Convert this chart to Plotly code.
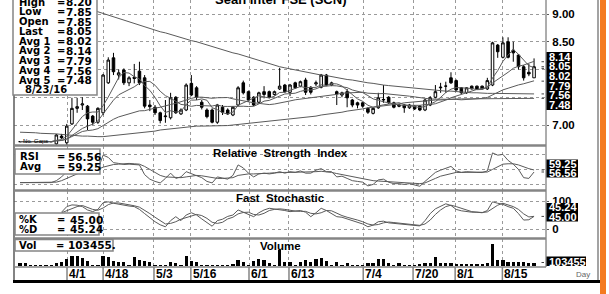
import plotly.graph_objects as go
import pandas as pd

W, H = 609, 294

# ---------------- data ----------------
opens = [6.70, 6.70, 6.70, 6.70, 6.70, 6.70, 6.70, 6.66, 6.80, 6.68,
         7.02, 7.30, 7.36, 7.34, 7.16, 7.05, 7.22, 7.76, 8.21, 7.90,
         7.99, 7.76, 7.86, 7.97, 7.85, 7.36, 7.32, 7.22, 7.15, 7.13,
         7.50, 7.20, 7.27, 7.75, 7.67, 7.41, 7.27, 7.27, 7.05, 7.32,
         7.27, 7.18, 7.36, 7.76, 7.60, 7.50, 7.41, 7.60, 7.60, 7.55,
         7.65, 7.72, 7.59, 7.76, 7.70, 7.81, 7.68, 7.74, 7.68, 7.90,
         7.72, 7.60, 7.54, 7.60, 7.45, 7.40, 7.40, 7.30, 7.21, 7.31,
         7.45, 7.50, 7.40, 7.36, 7.36, 7.31, 7.34, 7.34, 7.27, 7.36,
         7.50, 7.67, 7.70, 7.85, 7.80, 7.67, 7.58, 7.70, 7.70, 7.70,
         7.65, 7.72, 8.44, 8.22, 8.50, 8.35, 8.26, 8.05, 7.95, 7.85]
highs = [6.70, 6.70, 6.70, 6.70, 6.70, 6.70, 6.70, 6.84, 6.84, 7.02,
         7.49, 7.49, 7.50, 7.36, 7.18, 7.32, 7.92, 8.22, 8.30, 8.00,
         8.02, 7.88, 8.10, 8.14, 7.90, 7.45, 7.36, 7.24, 7.45, 7.58,
         7.52, 7.30, 7.75, 7.90, 7.70, 7.45, 7.30, 7.30, 7.38, 7.36,
         7.30, 7.34, 7.70, 7.80, 7.62, 7.52, 7.60, 7.70, 7.62, 7.62,
         8.03, 7.74, 7.74, 7.78, 7.80, 7.85, 7.70, 7.80, 7.92, 7.92,
         7.78, 7.62, 7.60, 7.65, 7.47, 7.42, 7.42, 7.32, 7.32, 7.58,
         7.72, 7.52, 7.42, 7.38, 7.38, 7.38, 7.36, 7.36, 7.47, 7.52,
         7.72, 7.76, 7.78, 7.95, 7.82, 7.68, 7.68, 7.71, 7.71, 7.71,
         7.85, 8.50, 8.46, 8.58, 8.58, 8.50, 8.28, 8.08, 8.10, 8.20]
lows = [6.70, 6.70, 6.70, 6.70, 6.70, 6.70, 6.70, 6.64, 6.75, 6.64,
        7.00, 7.22, 7.27, 6.91, 7.00, 7.02, 7.18, 7.74, 7.90, 7.82,
        7.72, 7.70, 7.75, 7.72, 7.30, 7.25, 7.18, 7.03, 7.04, 7.10,
        7.20, 7.18, 7.25, 7.52, 7.45, 7.28, 7.12, 7.03, 7.02, 7.18,
        7.18, 7.16, 7.34, 7.55, 7.42, 7.34, 7.39, 7.48, 7.48, 7.53,
        7.63, 7.58, 7.52, 7.65, 7.68, 7.54, 7.55, 7.70, 7.66, 7.70,
        7.70, 7.36, 7.50, 7.32, 7.32, 7.30, 7.31, 7.20, 7.19, 7.29,
        7.40, 7.38, 7.30, 7.32, 7.22, 7.29, 7.27, 7.25, 7.25, 7.34,
        7.48, 7.58, 7.58, 7.74, 7.62, 7.56, 7.56, 7.64, 7.64, 7.64,
        7.63, 7.70, 8.21, 8.20, 8.20, 8.14, 8.00, 7.80, 7.88, 7.85]
closes = [6.70, 6.70, 6.70, 6.70, 6.70, 6.70, 6.70, 6.82, 6.77, 6.98,
          7.30, 7.33, 7.38, 7.11, 7.05, 7.30, 7.90, 8.17, 7.96, 7.94,
          7.76, 7.85, 7.84, 7.76, 7.34, 7.33, 7.22, 7.08, 7.16, 7.49,
          7.22, 7.27, 7.72, 7.54, 7.50, 7.32, 7.15, 7.05, 7.36, 7.23,
          7.20, 7.32, 7.67, 7.58, 7.45, 7.36, 7.58, 7.55, 7.50, 7.60,
          7.70, 7.60, 7.72, 7.67, 7.78, 7.59, 7.59, 7.76, 7.90, 7.72,
          7.76, 7.56, 7.58, 7.49, 7.36, 7.36, 7.34, 7.23, 7.30, 7.49,
          7.46, 7.40, 7.32, 7.34, 7.31, 7.36, 7.29, 7.27, 7.45, 7.49,
          7.60, 7.68, 7.70, 7.76, 7.63, 7.58, 7.67, 7.65, 7.65, 7.65,
          7.80, 8.48, 8.32, 8.48, 8.22, 8.30, 8.05, 7.85, 7.92, 8.05]
avg4 = [9.55, 9.52, 9.49, 9.46, 9.43, 9.40, 9.37, 9.34, 9.31, 9.28,
        9.25, 9.21, 9.17, 9.12, 9.08, 9.04, 9.01, 8.98, 8.94, 8.91,
        8.88, 8.85, 8.82, 8.80, 8.77, 8.74, 8.71, 8.68, 8.66, 8.63,
        8.60, 8.57, 8.55, 8.52, 8.50, 8.47, 8.44, 8.41, 8.38, 8.36,
        8.33, 8.30, 8.28, 8.25, 8.22, 8.19, 8.16, 8.13, 8.10, 8.08,
        8.05, 8.03, 8.01, 7.99, 7.97, 7.95, 7.93, 7.92, 7.90, 7.89,
        7.87, 7.85, 7.84, 7.82, 7.81, 7.79, 7.78, 7.76, 7.75, 7.73,
        7.72, 7.71, 7.70, 7.69, 7.68, 7.67, 7.66, 7.65, 7.64, 7.64,
        7.63, 7.62, 7.61, 7.61, 7.60, 7.59, 7.59, 7.58, 7.58, 7.57,
        7.57, 7.57, 7.57, 7.56, 7.56, 7.56, 7.56, 7.56, 7.56, 7.56]
avg5 = [6.87, 6.87, 6.86, 6.86, 6.85, 6.85, 6.84, 6.84, 6.83, 6.82,
        6.82, 6.81, 6.80, 6.80, 6.79, 6.79, 6.79, 6.80, 6.80, 6.81,
        6.82, 6.83, 6.84, 6.85, 6.86, 6.88, 6.89, 6.91, 6.92, 6.94,
        6.95, 6.96, 6.97, 6.97, 6.98, 6.98, 6.98, 6.98, 6.99, 6.99,
        6.99, 7.00, 7.01, 7.01, 7.02, 7.03, 7.04, 7.05, 7.06, 7.07,
        7.08, 7.09, 7.10, 7.12, 7.13, 7.14, 7.15, 7.16, 7.18, 7.19,
        7.20, 7.22, 7.23, 7.25, 7.26, 7.28, 7.29, 7.31, 7.32, 7.34,
        7.35, 7.36, 7.37, 7.38, 7.40, 7.41, 7.42, 7.43, 7.44, 7.44,
        7.45, 7.45, 7.46, 7.46, 7.47, 7.47, 7.47, 7.47, 7.48, 7.48,
        7.48, 7.48, 7.48, 7.48, 7.48, 7.48, 7.48, 7.48, 7.48, 7.48]
volume = [89000, 86000, 25000, 24000, 26000, 25000, 24000, 90000, 118000, 207000,
          296000, 296000, 236000, 148000, 25000, 27000, 296000, 266000, 148000, 118000,
          118000, 28000, 266000, 177000, 148000, 118000, 26000, 25000, 27000, 118000,
          89000, 28000, 296000, 148000, 118000, 25000, 24000, 26000, 25000, 27000,
          25000, 30000, 177000, 118000, 28000, 148000, 207000, 177000, 89000, 28000,
          473000, 118000, 118000, 28000, 118000, 177000, 118000, 207000, 236000, 148000,
          28000, 118000, 28000, 89000, 26000, 25000, 27000, 89000, 89000, 207000,
          207000, 89000, 28000, 89000, 28000, 26000, 27000, 59000, 89000, 89000,
          266000, 103000, 89000, 89000, 59000, 59000, 59000, 30000, 30000, 30000,
          89000, 650000, 177000, 177000, 133000, 133000, 133000, 133000, 89000, 103455]
rsi = [42.4, 42.4, 42.4, 42.4, 42.4, 42.4, 42.4, 45, 50, 57,
       62, 64, 65, 58, 56, 60, 79, 76, 69, 68,
       66.5, 67, 66.5, 66, 53, 47, 44, 42, 48, 55,
       48, 50, 57, 54, 52, 49, 44, 42, 50, 48,
       47, 52, 66, 62, 55, 50, 54, 55, 54, 55,
       57, 55, 57, 56, 58, 55, 55, 59, 61, 57,
       57, 50, 51, 48, 45, 44, 43, 38, 40, 46,
       47, 43, 41, 41, 40, 41, 39, 37.5, 44, 50,
       56, 59, 61, 64, 58, 56, 57, 56, 56, 55.8,
       58, 82, 79, 80, 72, 67, 60, 49, 48, 56.56]
rsi_avg = [42.4, 42.4, 42.4, 42.4, 42.4, 42.4, 42.4, 43, 45, 48,
           52, 55, 57, 58, 59, 60, 63, 65, 66.5, 67,
           67.5, 68, 67.5, 67, 64, 60, 56, 52, 50, 49.5,
           49, 49, 50, 51, 52, 51.5, 50, 48.5, 48, 48,
           48, 49, 52, 53.5, 54, 54, 54, 54.5, 55, 55.5,
           56, 56, 56, 56, 56.5, 57, 57, 57, 57.5, 57,
           56, 54.5, 53, 51.5, 50, 49, 48, 46.5, 45, 44.5,
           44, 44, 43.5, 43, 42.5, 42, 41.5, 41, 42, 44.5,
           48, 51, 53, 55, 56, 56, 56, 56, 56, 56,
           56.5, 60, 64, 67, 67.5, 67.5, 66, 63, 61, 59.25]
pct_k = [None] * 8 + [60, 80,
         86, 85, 80, 68, 62, 70, 94, 97, 92, 88,
         84, 82, 80, 70, 55, 40, 26, 15, 8, 30,
         44, 30, 50, 58, 50, 36, 22, 10, 30, 35,
         45, 50, 68, 60, 50, 44, 58, 68, 74, 72,
         70, 66, 62, 64, 66, 60, 44, 58, 74, 66,
         55, 44, 42, 36, 32, 26, 18, 8, 14, 26,
         28, 22, 20, 20, 18, 15, 12, 11, 30, 55,
         72, 80, 90, 84, 70, 65, 62, 60, 60, 58,
         66, 97, 92, 88, 80, 74, 55, 32, 33, 45.00]
pct_d = [None] * 8 + [58, 65,
         72, 80, 84, 78, 70, 67, 75, 87, 93, 93,
         90, 86, 83, 78, 68, 55, 42, 29, 18, 20,
         26, 35, 40, 45, 52, 48, 38, 24, 20, 24,
         36, 42, 54, 59, 60, 52, 50, 56, 66, 70,
         72, 70, 66, 64, 63, 63, 56, 54, 58, 66,
         65, 55, 48, 42, 38, 32, 26, 18, 14, 16,
         22, 25, 23, 21, 19, 17, 15, 13, 18, 32,
         52, 68, 80, 85, 80, 74, 66, 62, 60, 59,
         61, 73, 85, 92, 87, 80, 70, 54, 43, 45.24]
date_pos = [9.05, 16.0, 25.8, 32.9, 44.1, 51.8, 66.1, 75.7, 83.8, 92.9]
date_labels = ["4/1", "4/18", "5/3", "5/16", "6/1", "6/13", "7/4", "7/20", "8/1", "8/15"]
price_ticks = [7.0, 7.5, 8.0, 8.5, 9.0]
price_ticktext = ["7.00", "", "", "8.50", "9.00"]
price_last = [8.14, 8.05, 8.02, 7.79, 7.56, 7.48]
price_last_text = ["8.14", "8.05", "8.02", "7.79", "7.56", "7.48"]

idx = list(range(len(closes)))
cs = pd.Series(closes)
avg1 = cs.rolling(5, min_periods=1).mean().tolist()
avg2 = cs.rolling(10, min_periods=1).mean().tolist()
avg3 = cs.rolling(25, min_periods=1).mean().tolist()

# ---------------- helpers ----------------
def X(px):
    return px / W

def Y(py):
    return 1 - py / H

GRID = "#9a9a9a"
LINE = "#5a5a5a"
SEP = "#858585"
LEFT_FONT = "DejaVu Sans"
AX_FONT = "Liberation Sans"

fig = go.Figure()

fig.add_trace(go.Candlestick(
    x=idx, open=opens, high=highs, low=lows, close=closes,
    increasing=dict(line=dict(color="black", width=1), fillcolor="white"),
    decreasing=dict(line=dict(color="black", width=1), fillcolor="black"),
    whiskerwidth=0, showlegend=False, hoverinfo="skip", xaxis="x", yaxis="y"))

for s in (avg1, avg2, avg3, avg4, avg5):
    fig.add_trace(go.Scatter(x=idx, y=s, mode="lines", line=dict(color=LINE, width=1),
                             showlegend=False, hoverinfo="skip", xaxis="x", yaxis="y"))

for s in (rsi, rsi_avg):
    fig.add_trace(go.Scatter(x=idx, y=s, mode="lines", line=dict(color=LINE, width=1),
                             showlegend=False, hoverinfo="skip", xaxis="x2", yaxis="y2"))

for s in (pct_k, pct_d):
    fig.add_trace(go.Scatter(x=idx, y=s, mode="lines", line=dict(color=LINE, width=1),
                             showlegend=False, hoverinfo="skip", xaxis="x3", yaxis="y3"))

fig.add_trace(go.Bar(x=idx, y=volume, marker=dict(color="black", line=dict(width=0)),
                     width=0.62, showlegend=False, hoverinfo="skip", xaxis="x4", yaxis="y4"))

xr = [-1.16, 101.3]
xdom = [X(14), X(546)]
xcommon = dict(domain=xdom, range=xr, showticklabels=False, ticks="",
               tickvals=date_pos, showgrid=True, gridcolor=GRID, griddash="dot",
               gridwidth=1, zeroline=False, showline=False, fixedrange=True)

px_per = 55.5
pr_lo = 9.0 - (145 - 14) / px_per
pr_hi = 9.0 + 14 / px_per

layout = dict(
    width=W, height=H, autosize=False,
    margin=dict(l=0, r=0, t=0, b=0, pad=0),
    paper_bgcolor="white", plot_bgcolor="white",
    showlegend=False, bargap=0,
    xaxis=dict(**xcommon, anchor="y", rangeslider=dict(visible=False)),
    xaxis2=dict(**xcommon, anchor="y2"),
    xaxis3=dict(**xcommon, anchor="y3"),
    xaxis4=dict(**xcommon, anchor="y4"),
    yaxis=dict(domain=[Y(145), 1], range=[pr_lo, pr_hi], side="right", anchor="x",
               tickvals=price_ticks, ticktext=price_ticktext,
               tickfont=dict(family=AX_FONT, size=11.5, color="black", weight="bold"),
               ticks="outside", ticklen=2, tickcolor=LINE, ticklabelstandoff=1,
               showgrid=True, gridcolor=GRID, griddash="dot", zeroline=False, fixedrange=True),
    yaxis2=dict(domain=[Y(190), Y(146)], range=[32.56, 91.2], side="right", anchor="x2",
                tickvals=[40, 60, 80], showticklabels=False, ticks="",
                showgrid=True, gridcolor=GRID, griddash="dot", zeroline=False, fixedrange=True),
    yaxis3=dict(domain=[Y(238), Y(191)], range=[-32.1, 135.7], side="right", anchor="x3",
                tickvals=[0, 100], ticktext=["0", "100"],
                tickfont=dict(family=AX_FONT, size=11.5, color="black", weight="bold"),
                ticks="outside", ticklen=2, tickcolor=LINE, ticklabelstandoff=1,
                showgrid=True, gridcolor=GRID, griddash="dot", zeroline=False, fixedrange=True),
    yaxis4=dict(domain=[Y(266), Y(239)], range=[0, 27 * 29560], side="right", anchor="x4",
                tickvals=[27 * 29560], showticklabels=False, ticks="",
                showgrid=True, gridcolor=GRID, griddash="dot", zeroline=False, fixedrange=True),
)
fig.update_layout(**layout)

shapes = []
ann = []

def hline(y, x0, x1, color, w):
    shapes.append(dict(type="line", xref="paper", yref="paper", x0=X(x0), x1=X(x1),
                       y0=Y(y), y1=Y(y), line=dict(color=color, width=w), layer="above"))

def vline(x, y0, y1, color, w):
    shapes.append(dict(type="line", xref="paper", yref="paper", x0=X(x), x1=X(x),
                       y0=Y(y0), y1=Y(y1), line=dict(color=color, width=w), layer="above"))

def rect(x0, y0, x1, y1, fill, line_color=None, w=0):
    shapes.append(dict(type="rect", xref="paper", yref="paper", x0=X(x0), x1=X(x1),
                       y0=Y(y1), y1=Y(y0), fillcolor=fill,
                       line=dict(color=line_color or fill, width=w), layer="above"))

def text(x, y, s, size=11, family=LEFT_FONT, color="black", bold=True, xanchor="left"):
    ann.append(dict(xref="paper", yref="paper", x=X(x), y=Y(y), text=s, showarrow=False,
                    xanchor=xanchor, yanchor="middle", borderpad=0,
                    font=dict(family=family, size=size, color=color,
                              weight="bold" if bold else "normal")))

def marker(yref, val):
    # tiny pointer left of the right-hand value boxes
    shapes.append(dict(type="line", xref="paper", yref=yref, x0=X(541.5), x1=X(544),
                       y0=val, y1=val, line=dict(color="#444", width=1), layer="above"))

# frame lines
vline(14, 0, 280, LINE, 1.5)
vline(546, 0, 267, LINE, 1)
vline(598, 0, 281, SEP, 1.5)
hline(145.5, 14, 546, SEP, 2.5)
hline(190.5, 14, 546, SEP, 2.5)
hline(238.5, 14, 546, SEP, 2.5)
hline(267, 14, 546, SEP, 1.5)
hline(280.5, 14, 546, SEP, 1)
hline(281.5, 13, 600, "black", 3)

# date band separators and labels
for p, lab in zip(date_pos, date_labels):
    shapes.append(dict(type="line", xref="x4", yref="paper", x0=p, x1=p,
                       y0=Y(280), y1=Y(267), line=dict(color=SEP, width=1.5), layer="above"))
    ann.append(dict(xref="x4", yref="paper", x=p, y=Y(273.5), text=lab, showarrow=False,
                    xanchor="left", yanchor="middle", xshift=1, borderpad=0,
                    font=dict(family=AX_FONT, size=12, color="black", weight="bold")))
text(575, 274, "Day", size=8, family=AX_FONT, color="#666", bold=False)

# orange bar
rect(600, -2, 606, 296, "#f47a20")

# title (cut off at top, as in the source picture)
text(280, -1, "Sean Inter FSE (SCN)", size=13, family=AX_FONT, xanchor="center")

# price info box
rect(13, -5, 97, 95, "white", SEP, 1.5)
rows = [("High", "8.20"), ("Low", "7.85"), ("Open", "7.85"), ("Last", "8.05"),
        ("Avg 1", "8.02"), ("Avg 2", "8.14"), ("Avg 3", "7.79"),
        ("Avg 4", "7.56"), ("Avg 5", "7.48")]
for k, (lab, val) in enumerate(rows):
    yy = 2 + k * 9.8
    text(18, yy, lab, size=10)
    text(56, yy, "=", size=10)
    text(65, yy, val, size=10.5)
text(24, 89.5, "8/23/16", size=10)
text(22, 141, "No  Gaps", size=6, family=AX_FONT, bold=False)

# right price value boxes
rect(546.5, 52, 572, 110, "black")
for yy, s in zip([57, 66.5, 76, 85.5, 95, 104.5], price_last_text):
    text(547.5, yy, s, size=11, family=AX_FONT, color="white")
for v in price_last:
    marker("y", v)

# RSI box
rect(15, 149, 100, 174, "white", SEP, 1.5)
text(19, 156.5, "RSI", size=10)
text(56, 156.5, "=", size=10)
text(67, 156.5, "56.56", size=10.5)
text(19, 166.5, "Avg", size=10)
text(56, 166.5, "=", size=10)
text(67, 166.5, "59.25", size=10.5)
text(280, 153, "Relative  Strength  Index", size=11.5, family=AX_FONT, xanchor="center")
rect(546.5, 159.5, 578, 177.5, "black")
text(547.5, 164, "59.25", size=11, family=AX_FONT, color="white")
text(547.5, 173, "56.56", size=11, family=AX_FONT, color="white")
marker("y2", 56.56)
marker("y2", 59.25)

# Stochastic box
rect(15, 213, 99, 235, "white", SEP, 1.5)
text(18, 219.5, "%K", size=10)
text(56, 219.5, "=", size=10)
text(69, 219.5, "45.00", size=10.5)
text(18, 229, "%D", size=10)
text(56, 229, "=", size=10)
text(69, 229, "45.24", size=10.5)
text(280, 197.5, "Fast  Stochastic", size=11.5, family=AX_FONT, xanchor="center")
rect(546.5, 203, 578, 221.5, "black")
text(547.5, 207.5, "45.24", size=11, family=AX_FONT, color="white")
text(547.5, 217, "45.00", size=11, family=AX_FONT, color="white")
marker("y3", 45.0)

# Volume box
rect(15, 239.5, 113, 251, "white", SEP, 1.5)
text(18, 245, "Vol", size=10)
text(55, 245, "=", size=10)
text(67, 245, "103455.", size=10.5)
text(280, 246, "Volume", size=11.5, family=AX_FONT, xanchor="center")
rect(546.5, 256.5, 586, 266, "black")
text(547.5, 261.5, "103455", size=11, family=AX_FONT, color="white")
marker("y4", 103455)

fig.update_layout(shapes=shapes, annotations=ann)
fig.write_html("out.html", config={"displayModeBar": False},
               post_script="document.body.style.margin='0';document.body.style.overflow='hidden';")
